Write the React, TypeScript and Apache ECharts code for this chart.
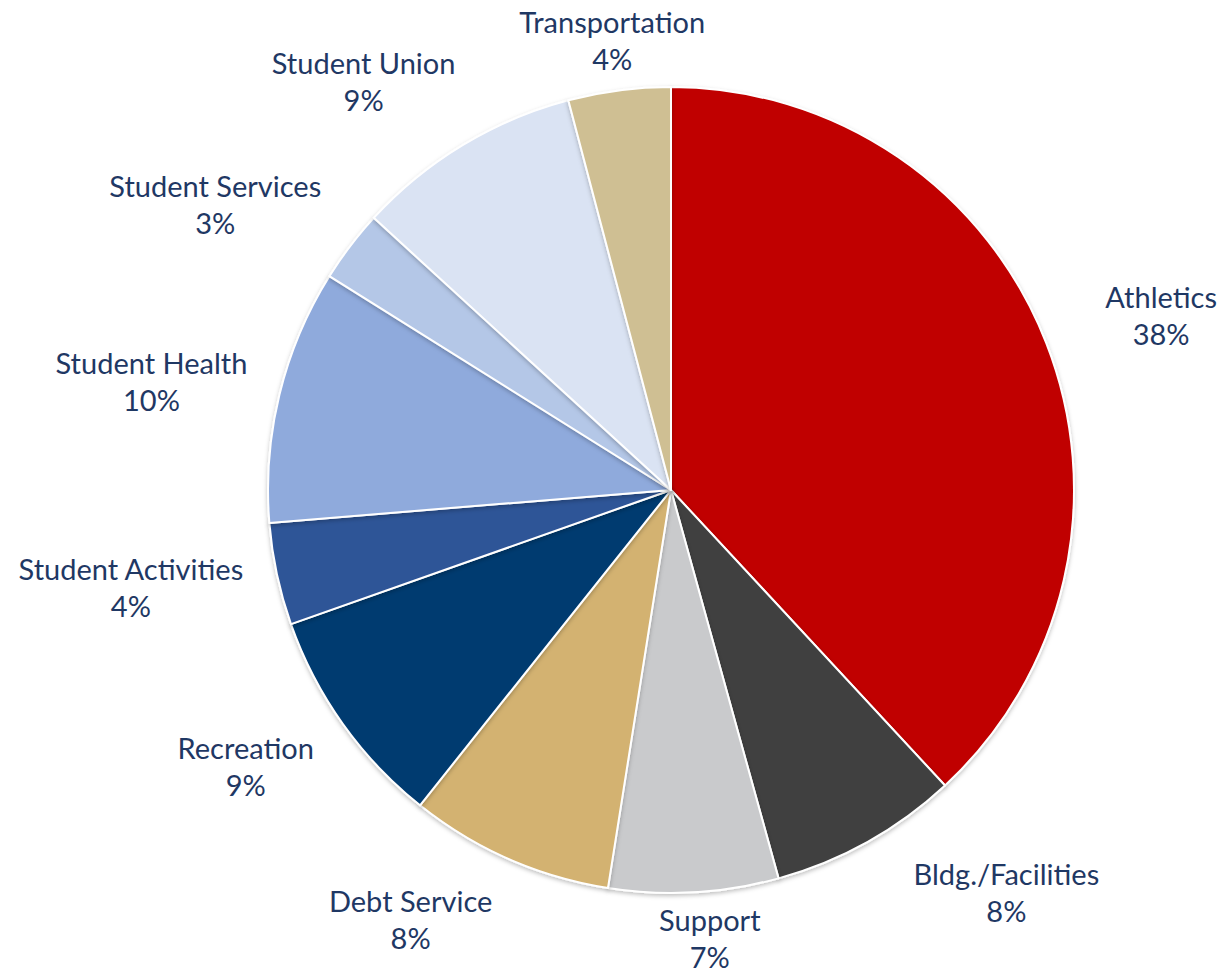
import React, { useEffect, useRef } from "react";
import * as echarts from "echarts";

const categories = [
  "Athletics",
  "Bldg./Facilities",
  "Support",
  "Debt Service",
  "Recreation",
  "Student Activities",
  "Student Health",
  "Student Services",
  "Student Union",
  "Transportation",
];
const shares = [38.1, 7.6, 6.8, 8.2, 8.9, 4.1, 10.2, 2.9, 9.1, 4.1];
const colors = [
  "#C00000",
  "#404040",
  "#C9CACC",
  "#D3B271",
  "#003A70",
  "#2F5597",
  "#8FAADC",
  "#B4C7E7",
  "#DAE3F3",
  "#CFBF93",
];

// label layout: offset of each label's centre from the point where its slice's mid-angle meets the rim
const labelNudge: [number, number][] = [
  [115, -28],
  [139, 50],
  [16, 46],
  [-98, 60],
  [-97, 42],
  [-146, 13],
  [-128, -14],
  [-135, -42],
  [-99, -64],
  [-7, -50],
];

const CX = 671;
const CY = 490;
const R = 403;

export default function App() {
  const ref = useRef<HTMLDivElement>(null);
  useEffect(() => {
    const chart = echarts.init(ref.current!, null, { renderer: "svg" });
    const total = shares.reduce((a, b) => a + b, 0);
    const mids: number[] = [];
    let acc = 0;
    for (const v of shares) {
      mids.push(((acc + v / 2) / total) * 2 * Math.PI);
      acc += v;
    }
    chart.setOption({
      animation: false,
      series: [
        {
          type: "pie",
          center: [CX, CY],
          radius: R,
          startAngle: 90,
          clockwise: true,
          avoidLabelOverlap: false,
          data: categories.map((n, i) => ({
            name: n,
            value: shares[i],
            itemStyle: { color: colors[i] },
          })),
          itemStyle: {
            borderColor: "#ffffff",
            borderWidth: 2,
            shadowBlur: 4,
            shadowColor: "rgba(0,0,0,0.25)",
            shadowOffsetY: 2,
          },
          label: {
            show: true,
            position: "outside",
            formatter: (p: any) => `${p.name}\n${Math.round(p.percent)}%`,
            color: "#1F3864",
            fontFamily: "Lato",
            fontSize: 29,
            lineHeight: 37,
            align: "center",
          },
          labelLine: { show: false },
          labelLayout: (p: any) => {
            const a = mids[p.dataIndex];
            const px = CX + Math.sin(a) * R;
            const py = CY - Math.cos(a) * R;
            const [dx, dy] = labelNudge[p.dataIndex];
            return {
              x: px + dx,
              y: py + dy,
              align: "center",
              verticalAlign: "middle",
            };
          },
        },
      ],
    });
    return () => chart.dispose();
  }, []);
  return (
    <div
      ref={ref}
      style={{ position: "absolute", left: 0, top: 0, width: 1222, height: 976 }}
    />
  );
}
